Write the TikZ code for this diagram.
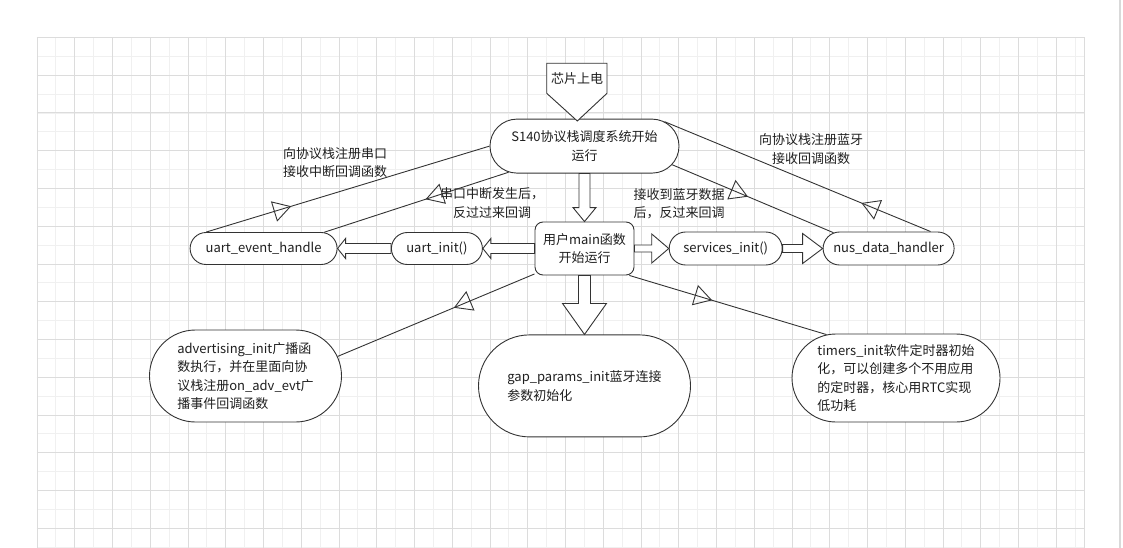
\documentclass[tikz,border=0pt]{standalone}
\usepackage{fontspec}
\setmainfont{Noto Sans CJK SC}
\usetikzlibrary{positioning,calc,arrows.meta,decorations.markings,shapes.misc}

\definecolor{gridmajor}{HTML}{DCDCDC}
\definecolor{gridminor}{HTML}{F0F0F0}
\definecolor{ink}{HTML}{333333}

% wide hollow arrow: from, to, half shaft, half head, head length
\newcommand{\hollowarrow}[5]{%
  \coordinate (ha) at (#1);
  \coordinate (hb) at (#2);
  \coordinate (hh) at ($(hb)!#5!(ha)$);
  \draw [hollow] ($(ha)!#3!90:(hb)$) -- ($(hh)!#3!90:(hb)$)
        -- ($(hh)!#4!90:(hb)$) -- (hb) -- ($(hh)!#4!-90:(hb)$)
        -- ($(hh)!#3!-90:(hb)$) -- ($(ha)!#3!-90:(hb)$) -- cycle;
}

\begin{document}
\begin{tikzpicture}
    [x=1pt,y=-1pt,
     every node/.style={font=\fontsize{13}{18.4}\selectfont,text=black!88},
     midtip/.style={postaction={decorate},
       decoration={markings,mark=at position #1 with {\arrow{Triangle[open,length=18pt,width=21pt]}}}}]

    \tikzstyle{pill}   = [draw=ink,line width=0.9pt,fill=white,rounded rectangle,inner sep=0pt,align=center]
    \tikzstyle{box}    = [draw=ink,line width=0.9pt,fill=white,rounded corners=8pt,inner sep=0pt,align=center]
    \tikzstyle{link}   = [draw=ink,line width=0.9pt]
    \tikzstyle{hollow} = [draw=ink,line width=0.9pt,fill=white,line join=miter]
    \tikzstyle{note}   = [align=center,inner sep=0pt]

    \useasboundingbox (0,0) rectangle (1123,548);

    % paper grid
    \begin{scope}[shift={(36.8,37.3)}]
      \draw [gridminor,line width=0.5pt,step=18.875pt] (0,0) grid (1047.2,510.7);
      \draw [gridmajor,line width=0.6pt,step=37.75pt] (0,0) grid (1047.2,510.7);
      \draw [gridmajor,line width=0.6pt] (1047.2,510.7) |- (0,0) -- (0,510.7);
    \end{scope}
    \draw [gray!30,line width=2.5pt] (1120,0) -- (1120,548);

    \node [box,minimum width=99pt,minimum height=53pt] (main) at (584.5,248.5) {用户main函数\\开始运行};
    \node [pill,minimum width=189pt,minimum height=54pt,above=48pt of main] (s140) {S140协议栈调度系统开始\\运行};
    \node [pill,minimum width=91pt,minimum height=32pt,left=51.7pt of main] (uinit) {uart\_init()};
    \node [pill,minimum width=147pt,minimum height=32pt,left=53.4pt of uinit] (ueh) {uart\_event\_handle};
    \node [pill,minimum width=113pt,minimum height=33pt,right=34.3pt of main] (serv) {services\_init()};
    \node [pill,minimum width=131pt,minimum height=33pt,right=40pt of serv] (nus) {nus\_data\_handler};

    \node [pill,minimum width=212pt,minimum height=102pt,align=left,below=59pt of main] (gap)
          {gap\_params\_init蓝牙连接\\参数初始化};
    \node [pill,minimum width=192pt,minimum height=92pt,align=left] (adv) at (245.5,376)
          {advertising\_init广播函\\数执行，并在里面向协\\议栈注册on\_adv\_evt广\\播事件回调函数};
    \node [pill,minimum width=208pt,minimum height=88pt,align=left] (timers) at (896,378)
          {timers\_init软件定时器初始\\化，可以创建多个不用应用\\的定时器，核心用RTC实现\\低功耗};

    \draw [hollow] (546.7,63.3) -- (607,63.3) -- (607,93.3) -- (577.3,121) -- (546.7,93.3) -- cycle;
    \node [note] (power) at (577,79) {芯片上电};

    \node [note] (lregu) at (335,162.5) {向协议栈注册串口\\接收中断回调函数};
    \node [note] (lcbu)  at (492,203)   {串口中断发生后，\\反过过来回调};
    \node [note] (lregb) at (811,149)   {向协议栈注册蓝牙\\接收回调函数};
    \node [note,align=left] (lcbb) at (679,204) {接收到蓝牙数据\\后，反过来回调};

    \hollowarrow{s140.south}{s140.south |- main.north}{5.5pt}{11.5pt}{14pt}
    \hollowarrow{main.south}{main.south |- gap.north}{6pt}{22pt}{31pt}
    \hollowarrow{main.west}{uinit.east}{5pt}{10pt}{8pt}
    \hollowarrow{uinit.west}{ueh.east}{5pt}{10pt}{8pt}
    \hollowarrow{main.east}{serv.west}{3.5pt}{14.5pt}{17pt}
    \hollowarrow{serv.east}{nus.west}{4pt}{15pt}{20pt}

    \draw [link,midtip=0.3]  (ueh.164) -- (s140.west);
    \draw [link,midtip=0.45] (s140.199) -- (ueh.15);
    \draw [link,midtip=0.26] (nus.22) -- (s140.17);
    \draw [link,midtip=0.47] (s140.-12) -- (nus.164);
    \draw [link,midtip=0.41] (main.207) -- (adv.12);
    \draw [link,midtip=0.42] (main.-31) -- (timers.148);
  \end{tikzpicture}
\end{document}
